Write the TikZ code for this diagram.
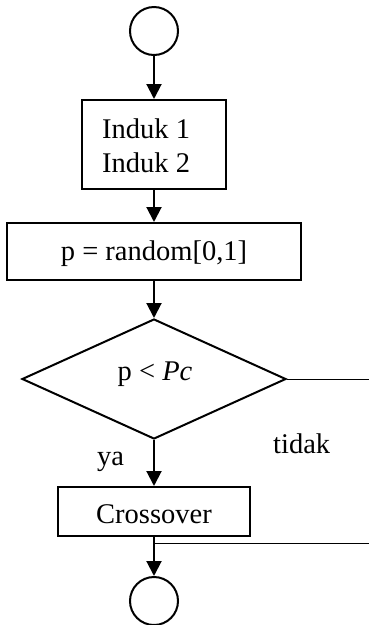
\documentclass[tikz,border=0pt]{standalone}
\usepackage{fontspec}
\setmainfont{Liberation Serif}
\usetikzlibrary{shapes.geometric,arrows.meta}
\begin{document}
\begin{tikzpicture}[x=1pt,y=-1pt,
  every node/.style={font=\fontsize{28.5}{34}\selectfont},
  shapebox/.style={draw, rectangle, line width=2pt, inner sep=0pt},
  termcirc/.style={draw, circle, line width=2pt, minimum size=48pt, inner sep=0pt},
  decide/.style={draw, diamond, line width=2pt, inner sep=0pt},
  txt/.style={inner sep=0pt, anchor=base},
  arr/.style={line width=2pt, -{Triangle[length=15pt,width=15pt]}},
  thinline/.style={line width=1pt}]
\useasboundingbox (0,0) rectangle (369,625);

\node[termcirc] (start) at (154,31) {};
\node[shapebox, minimum width=144pt, minimum height=89pt] (b1) at (154,144.5) {};
\node[txt, anchor=base west] (t1a) at (102,138) {Induk 1};
\node[txt, anchor=base west] (t1b) at (102,172) {Induk 2};

\node[shapebox, minimum width=294pt, minimum height=57pt] (b2) at (154,251.5) {};
\node[txt] (t2) at (154,260) {p = random[0,1]};

\node[decide, minimum width=264pt, minimum height=120pt] (d) at (154,379) {};
\node[txt] (t3) at (155,380) {p < \textit{Pc}};

\node[shapebox, minimum width=192pt, minimum height=49pt] (c) at (154,511.5) {};
\node[txt] (t4) at (154,523) {Crossover};

\node[termcirc] (end) at (154,601) {};

\node[txt, anchor=base west] (ya) at (97,465) {ya};
\node[txt, anchor=base west] (tidak) at (273,453) {tidak};

\coordinate (r1) at (369,379);
\coordinate (r2) at (369,543);

\draw[arr] (start) -- (b1);
\draw[arr] (b1) -- (b2);
\draw[arr] (b2) -- (d);
\draw[arr] (d) -- (c);
\draw[arr] (c) -- (end);
\draw[thinline] (d.east) -- (r1);
\draw[thinline] (c.south |- r2) -- (r2);
\end{tikzpicture}
\end{document}
